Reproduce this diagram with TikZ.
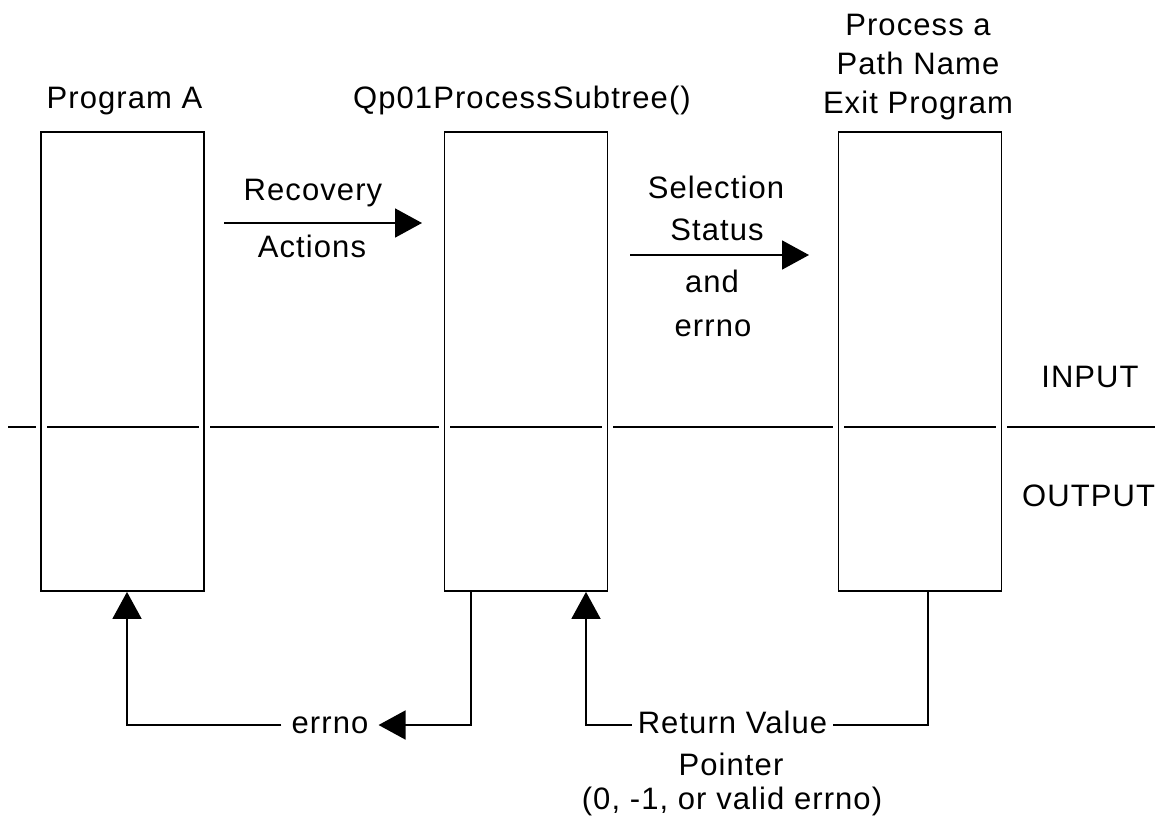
\documentclass[tikz,border=0pt]{standalone}
\usepackage{fontspec}
\setmainfont{Liberation Sans}[LetterSpace=3.5]
\usetikzlibrary{arrows.meta,calc}

\begin{document}
\begin{tikzpicture}[x=1pt,y=-1pt,
  every node/.style={font=\fontsize{31}{39}\selectfont, inner sep=0pt},
  box/.style={draw, line width=1.8pt, minimum width=163pt, minimum height=459pt,
              preaction={draw=white, line width=11pt}},
  lbl/.style={anchor=base},
  link/.style={line width=1.8pt},
  tip/.style={-{Triangle[length=27pt,width=29pt]}}
]
% canvas
\path[fill=white] (0,0) rectangle (1155,827);
\useasboundingbox (0,0) rectangle (1155,827);

% input / output divider (the boxes cut small gaps into it)
\coordinate (divL) at (8,427);
\coordinate (divR) at (1160,427);
\draw[link] (divL) -- (divR);

% the three programs
\node[box] (A) at (122.5,361.5) {};
\node[box] (B) at (526,361.5) {};
\node[box] (C) at (920,361.5) {};

\node[lbl] (tA) at (124.5,108) {Program A};
\node[lbl] (tB) at (522,108) {Qp01ProcessSubtree()};
\node[lbl] (tC1) at (918,35) {Process a};
\node[lbl] (tC2) at (918,74) {Path Name};
\node[lbl] (tC3) at (918,113) {Exit Program};

% recovery actions: A -> B
\coordinate (r1) at (224,223);
\coordinate (r2) at (422,223);
\draw[link,tip] (r1) -- (r2);
\node[lbl] (rec1) at (313,200) {Recovery};
\node[lbl] (rec2) at (312,257) {Actions};

% selection status and errno: B -> C
\coordinate (s1) at (630,255);
\coordinate (s2) at (809,255);
\draw[link,tip] (s1) -- (s2);
\node[lbl] (sel1) at (716,198) {Selection};
\node[lbl] (sel2) at (717,240) {Status};
\node[lbl] (sel3) at (712,292) {and};
\node[lbl] (sel4) at (713,336) {errno};

% side labels
\node[lbl] (inp) at (1090,387) {INPUT};
\node[lbl, anchor=base west] (outp) at (1022,506) {OUTPUT};

% return paths
\coordinate (row) at (0,725);
\node[lbl, inner xsep=10pt] (err) at (330,733) {errno};
\draw[link,tip] ($(B.south)+(-55,0)$) |- (err.east |- row);
\draw[link,tip] (err.west |- row) -| ($(A.south)+(4.5,0)$);

\node[lbl, inner xsep=6pt] (rv) at (732.5,733) {Return Value};
\draw[link] ($(C.south)+(8,0)$) |- (rv.east |- row);
\draw[link,tip] (rv.west |- row) -| ($(B.south)+(60,0)$);
\node[lbl] (rv2) at (731,775) {Pointer};
\node[lbl] (rv3) at (732,809) {(0, -1, or valid errno)};
\end{tikzpicture}
\end{document}
